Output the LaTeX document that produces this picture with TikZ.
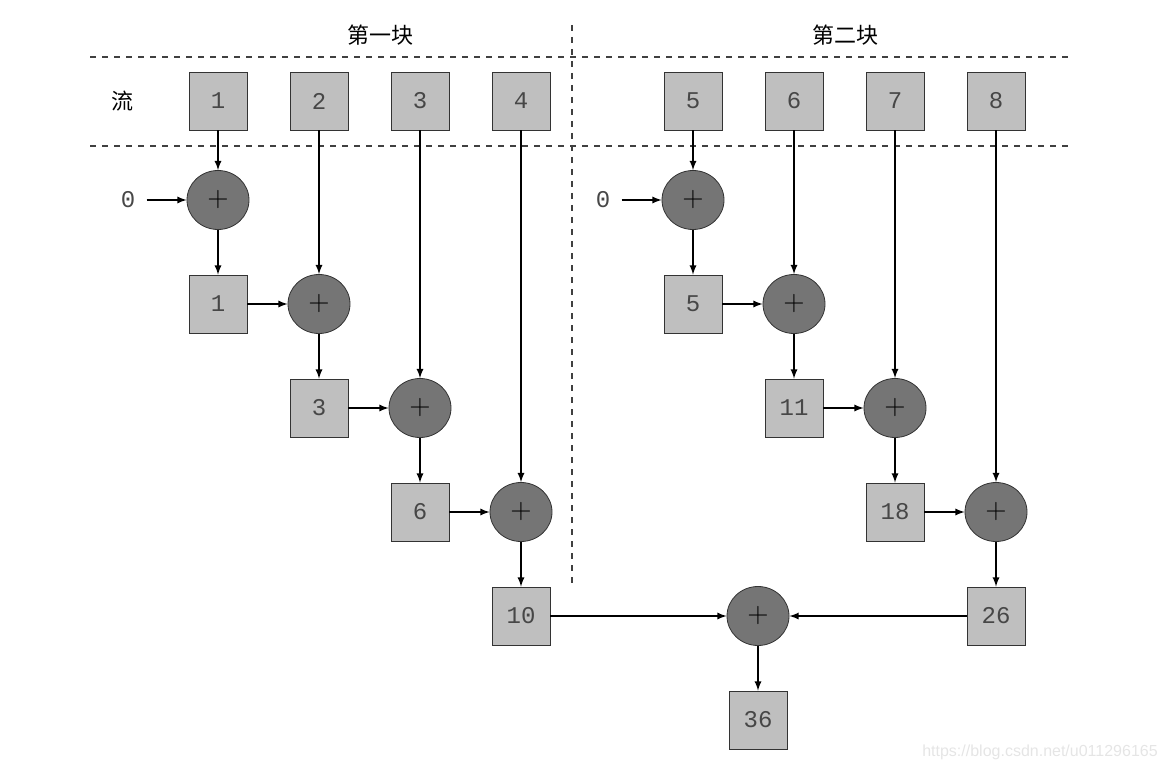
\documentclass[tikz,border=0pt]{standalone}
\usepackage{fontspec}
\setmonofont{Liberation Mono}
\setsansfont{Liberation Sans}
\newfontfamily\cjk{Noto Sans CJK SC}
\usetikzlibrary{arrows,shapes}

\tikzset{
    numbox/.style={draw=black!80, fill=black!25, minimum size=29pt, inner sep=0pt,
        font=\ttfamily\fontsize{12}{12}\selectfont, text=black!72},
    addnode/.style={ellipse, draw=black!80, fill=black!54, minimum width=31pt, minimum height=29.5pt, inner sep=0pt,
        font=\fontsize{14}{14}\selectfont, text=black},
    zero/.style={inner sep=5.5pt, font=\ttfamily\fontsize{12}{12}\selectfont, text=black!72},
    flow/.style={->, >=latex, line width=0.6pt},
    sep/.style={dashed, line width=0.6pt, black!75}
}

\begin{document}
\begin{tikzpicture}[x=0.5pt, y=-0.5pt]
            \useasboundingbox (0,0) rectangle (1166,770);

            % separators and headings
            \draw[sep] (90,57)--(1070,57);
            \draw[sep] (90,146)--(1070,146);
            \draw[sep] (572,25)--(572,585);
            \node[font=\cjk\fontsize{11}{11}\selectfont] (head1) at (380,35) {第一块};
            \node[font=\cjk\fontsize{11}{11}\selectfont] (head2) at (845,35) {第二块};
            \node[font=\cjk\fontsize{11}{11}\selectfont] (lbl) at (122,101) {流};

            % stream elements
            \foreach \n/\x in {1/218,2/319,3/420,4/521,5/693,6/794,7/895,8/996}{
                \node[numbox] (s\n) at (\x,101) {\n};
            }

            % first block
            \node[zero] (z1) at (128,200) {0};
            \foreach \i/\x/\y in {1/218/200,2/319/304,3/420/408,4/521/512}{
                \node[addnode] (a\i) at (\x,\y) {+};
            }
            \foreach \i/\x/\y/\v in {1/218/304/1,2/319/408/3,3/420/512/6,4/521/616/10}{
                \node[numbox] (p\i) at (\x,\y) {\v};
            }

            % second block
            \node[zero] (z2) at (603,200) {0};
            \foreach \i/\x/\y in {1/693/200,2/794/304,3/895/408,4/996/512}{
                \node[addnode] (b\i) at (\x,\y) {+};
            }
            \foreach \i/\x/\y/\v in {1/693/304/5,2/794/408/11,3/895/512/18,4/996/616/26}{
                \node[numbox] (q\i) at (\x,\y) {\v};
            }

            % combining
            \node[addnode] (tot) at (758,616) {+};
            \node[numbox] (res) at (758,720) {36};

            \draw[flow] (z1)--(a1);
            \draw[flow] (z2)--(b1);
            \foreach \i in {1,...,4}{
                \draw[flow] (s\i)--(a\i);
                \draw[flow] (a\i)--(p\i);
            }
            \foreach \i/\j in {1/5,2/6,3/7,4/8}{
                \draw[flow] (s\j)--(b\i);
                \draw[flow] (b\i)--(q\i);
            }
            \foreach \i/\j in {1/2,2/3,3/4}{
                \draw[flow] (p\i)--(a\j);
                \draw[flow] (q\i)--(b\j);
            }
            \draw[flow] (p4)--(tot);
            \draw[flow] (q4)--(tot);
            \draw[flow] (tot)--(res);

            \node[font=\sffamily\fontsize{8}{8}\selectfont, text=black!10, inner sep=0pt] (mark) at (1040,752) {https://blog.csdn.net/u011296165};
        \end{tikzpicture}
\end{document}
